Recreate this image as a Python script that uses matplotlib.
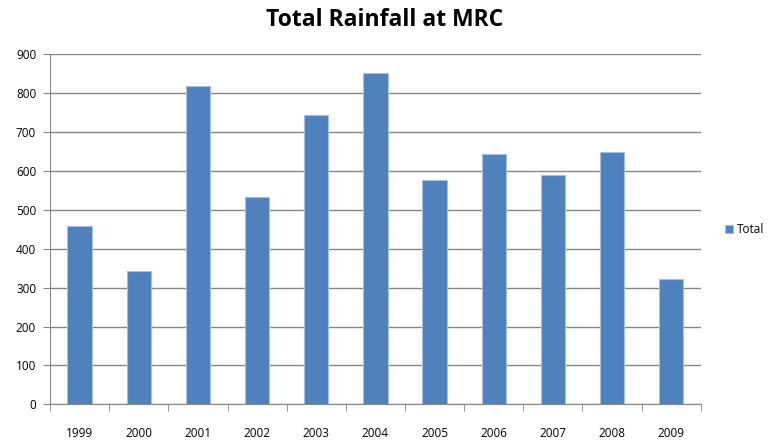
import numpy as np
import matplotlib.pyplot as plt

# Annual rainfall totals
years = ['1999', '2000', '2001', '2002', '2003', '2004',
         '2005', '2006', '2007', '2008', '2009']
totals = [459, 343, 818, 532, 745, 853, 577, 645, 589, 649, 322]

fig = plt.figure(figsize=(7.7, 4.43), dpi=100)
ax = fig.add_axes([0.065, 0.0874, 0.845, 0.7897])

x = np.arange(len(years))
ax.bar(x, totals, width=0.41, color='#4F81BD', edgecolor='#A7BFDE',
       linewidth=0.8, label='Total', zorder=3)

ax.set_xlim(-0.5, len(years) - 0.5)
ax.set_ylim(0, 900)
ax.set_yticks(range(0, 901, 100))
ax.yaxis.grid(True, color='#868686', linewidth=1, zorder=0)

# category ticks sit between the bars
ax.set_xticks(x)
ax.set_xticklabels(years)
ax.set_xticks(np.arange(-0.5, len(years), 1), minor=True)
ax.tick_params(axis='x', which='major', length=0, pad=16)
ax.tick_params(axis='x', which='minor', length=5, color='#868686', direction='out')
ax.tick_params(axis='y', length=5, color='#868686', direction='out', pad=5)

for lab in ax.get_xticklabels() + ax.get_yticklabels():
    lab.set_fontfamily('Open Sans')
    lab.set_fontsize(8.5)
    lab.set_color('black')

for side in ['top', 'right']:
    ax.spines[side].set_visible(False)
for side in ['left', 'bottom']:
    ax.spines[side].set_color('#868686')

fig.text(0.5, 0.955, 'Total Rainfall at MRC', ha='center', va='center',
         fontsize=16.5, fontweight='bold', family='Open Sans')

ax.legend(loc='center left', bbox_to_anchor=(1.024, 0.5), frameon=False,
          handlelength=0.7, handleheight=0.7, handletextpad=0.35,
          borderaxespad=0.3, prop={'family': 'Open Sans', 'size': 8.5})

fig.savefig('out.png', dpi=100)
